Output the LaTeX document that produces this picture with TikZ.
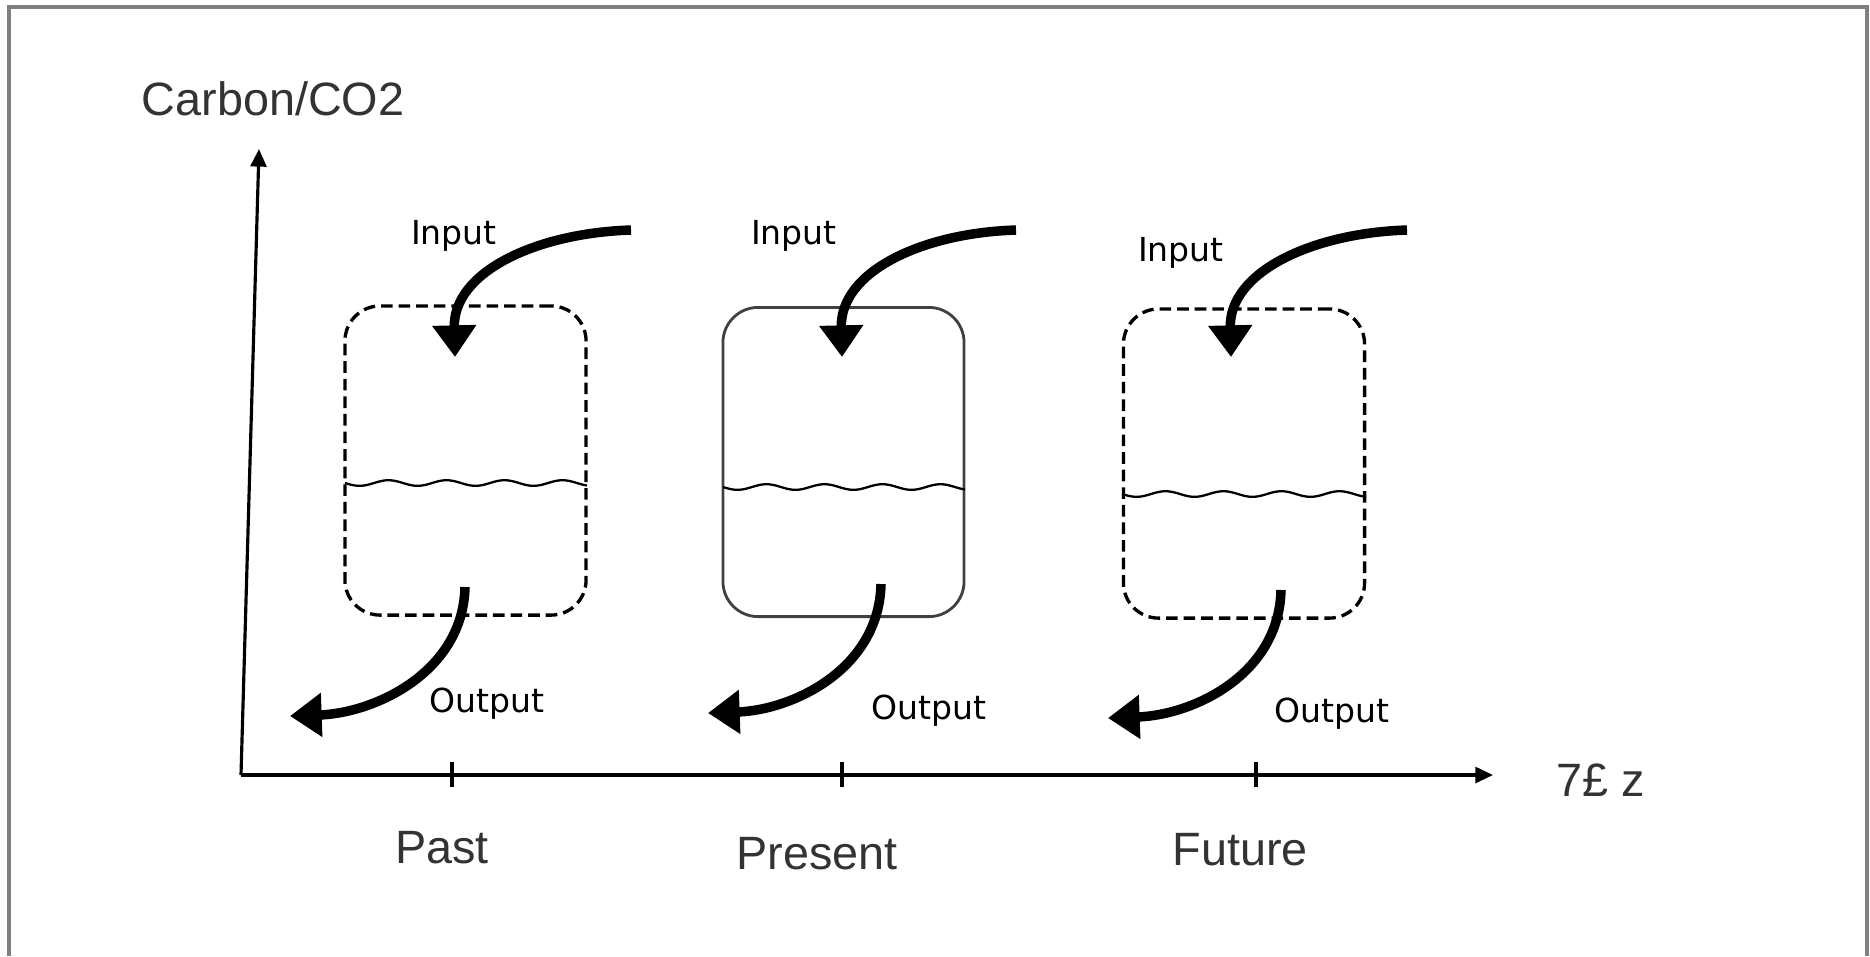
\documentclass[tikz,border=0pt]{standalone}
\usepackage{fontspec}
\setmainfont{Liberation Sans}
\newfontfamily\labelfont{DejaVu Sans}
\usetikzlibrary{arrows.meta}
\begin{document}
\begin{tikzpicture}[x=0.01cm,y=-0.01cm,
  tank/.style={draw, rounded corners=10pt, minimum width=2.41cm, minimum height=3.09cm,
    inner sep=0pt, outer sep=0pt, line width=0.8pt},
  dashtank/.style={tank, line width=0.95pt, dash pattern=on 3.3pt off 1.7pt},
  flow/.style={line width=2.7pt, -{Triangle[width=12pt,length=9pt]}},
  axisline/.style={line width=0.9pt, -{Triangle[width=4.5pt,length=5pt]}},
  wave/.style={line width=0.65pt},
  era/.style={font=\fontsize{13.3pt}{15pt}\selectfont, text=black!80, inner sep=0pt},
  tag/.style={font=\labelfont\fontsize{9.4pt}{11pt}\selectfont, inner sep=0pt}]
\useasboundingbox (0,0) rectangle (1870,956);
% frame
\draw[gray, line width=1pt] (9,956) -- (9,7) -- (1867,7) -- (1867,956);

% axes
\coordinate (origin) at (241,775);
\coordinate (ytop) at (259,149);
\coordinate (xend) at (1493,775);
\draw[axisline] (origin) -- (ytop);
\draw[axisline] (origin) -- (xend);
\node[era, anchor=west] (ylabel) at (141,99) {Carbon/CO2};
\node[era] (xlabel) at (1601,780) {7£ z};

% ticks and era labels
\foreach \n/\x in {past/452, present/842, future/1256}{
  \coordinate (tick\n) at (\x,775);
  \draw[line width=0.9pt] ([yshift=-3.5pt]tick\n) -- ([yshift=3.7pt]tick\n);
}
\node[era] (pastlbl) at (442,848) {Past};
\node[era] (presentlbl) at (817,854) {Present};
\node[era] (futurelbl) at (1240,850) {Future};

% reservoirs
\node[dashtank] (pastbox) at (465.5,460.5) {};
\node[tank, draw=black!75] (presentbox) at (843.5,462) {};
\node[dashtank] (futurebox) at (1244,463.5) {};

% carbon levels
\draw[wave] plot[domain=345:587, samples=120, smooth] (\x, {483 + 2.8*sin(6.207*(\x-345))});
\draw[wave] plot[domain=723:965, samples=120, smooth] (\x, {487 + 2.8*sin(6.207*(\x-723))});
\draw[wave] plot[domain=1122:1366, samples=120, smooth] (\x, {494 + 2.8*sin(6.207*(\x-1122))});

% inputs
\coordinate (pastinS) at (631,230);   \coordinate (pastinE) at (455,357);
\coordinate (presentinS) at (1016,230); \coordinate (presentinE) at (842,357);
\coordinate (futureinS) at (1407,230);  \coordinate (futureinE) at (1231,357);
\foreach \n in {past,present,future}{
  \draw[flow] (\n inS) .. controls +(-95,3) and +(-2,-85) .. (\n inE);
}
\node[tag] (pastin) at (454,236) {Input};
\node[tag] (presentin) at (794,236) {Input};
\node[tag] (futurein) at (1181,253) {Input};

% outputs
\coordinate (pastoutS) at (465,587);    \coordinate (pastoutE) at (290,716);
\coordinate (presentoutS) at (881,584); \coordinate (presentoutE) at (708,713);
\coordinate (futureoutS) at (1281,590); \coordinate (futureoutE) at (1108,718);
\foreach \n in {past,present,future}{
  \draw[flow] (\n outS) .. controls +(-2,85) and +(85,-3) .. (\n outE);
}
\node[tag] (pastout) at (487,704) {Output};
\node[tag] (presentout) at (929,711) {Output};
\node[tag] (futureout) at (1332,714) {Output};
\end{tikzpicture}
\end{document}
